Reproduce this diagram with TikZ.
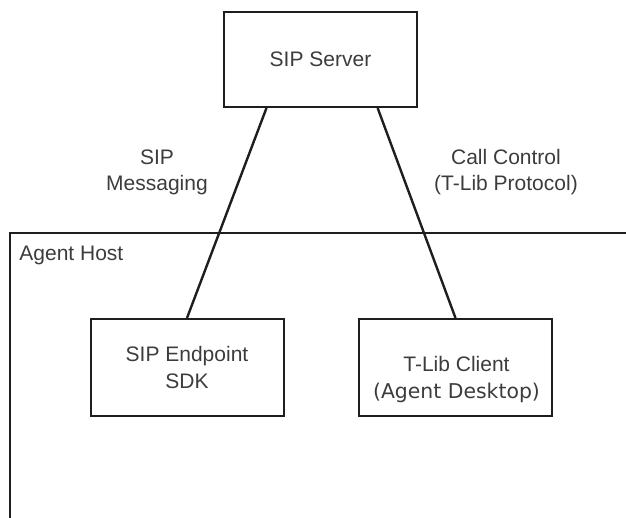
\documentclass[tikz,border=0pt]{standalone}
\usepackage{fontspec}
\setmainfont{Liberation Sans}
\newfontfamily\deskfont{DejaVu Sans}
\usetikzlibrary{calc}
\definecolor{inkgray}{HTML}{3C3C3C}
\definecolor{edgegray}{HTML}{1E1E1E}

\begin{document}
\begin{tikzpicture}[x=0.5pt, y=-0.5pt,
        box/.style={draw=edgegray, line width=1pt, minimum width=96.5pt, minimum height=48.5pt, inner sep=0pt},
        link/.style={draw=edgegray, line width=1.2pt},
        boxtext/.style={text=inkgray, font=\fontsize{10.5}{13.3}\selectfont, align=center},
        caption/.style={text=inkgray, font=\fontsize{10.5}{13}\selectfont, align=center}]
        \useasboundingbox (0,0) rectangle (626,518);
        % agent host area, cut off at the right and bottom
        \coordinate (hostnw) at (10,233);
        \coordinate (hostne) at (626,233);
        \coordinate (hostsw) at (10,518);
        \draw [edgegray, line width=1pt] (hostne) -- (hostnw) -- (hostsw);
        \node [caption, anchor=west, inner xsep=0pt] (hostlabel) at (19,255) {Agent Host};
        % boxes
        \node [box, minimum height=47.5pt, boxtext] (server) at (320.5,59.5) {SIP Server};
        \node [box, boxtext] (sdk) at (187,367.5) {SIP Endpoint\\SDK};
        \node [box] (tlib) at (455.5,367.5) {};
        \node [boxtext] (tlibtext) at ($(tlib)+(1,12)$) {T-Lib Client\\{\deskfont\fontsize{10.2}{13}\selectfont(Agent Desktop)}};
        % connections
        \draw [link] ($(server.south west)!0.223!(server.south east)$) -- (sdk.north);
        \draw [link] ($(server.south west)!0.793!(server.south east)$) -- (tlib.north);
        \node [caption] (siplabel) at (157,172) {SIP\\Messaging};
        \node [caption] (tliblabel) at (506,172) {Call Control\\(T-Lib Protocol)};
    \end{tikzpicture}
\end{document}
